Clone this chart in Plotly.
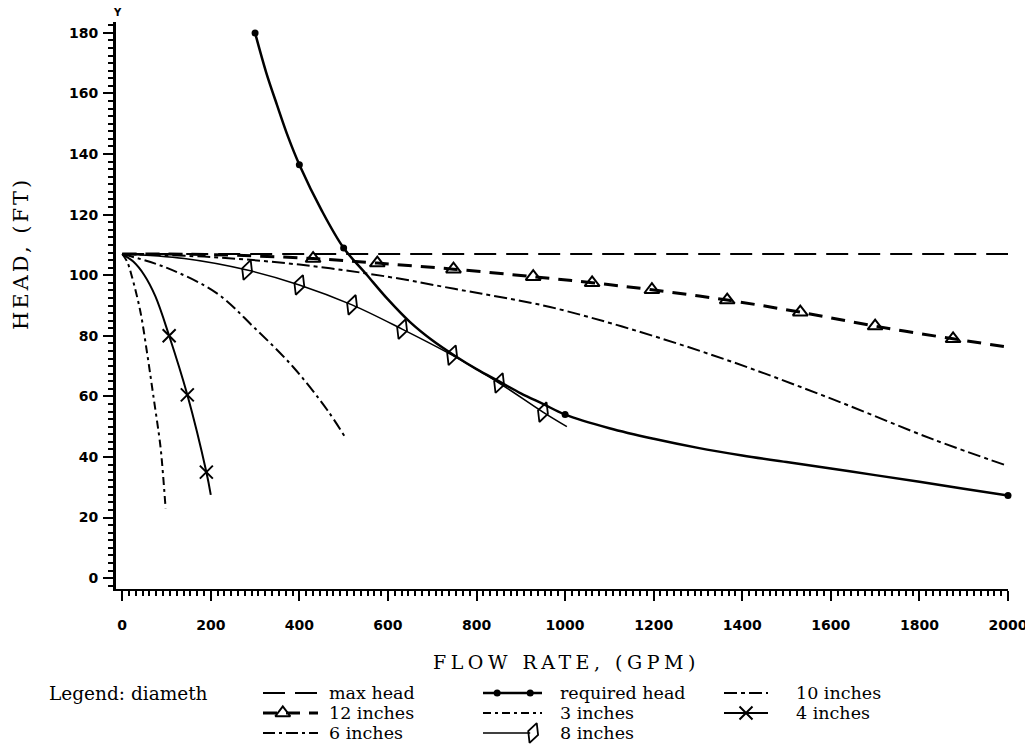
import plotly.graph_objects as go

# ---------------- data ----------------
max_head_x = [0, 2000]
max_head_y = [107, 107]

req_x = [300, 325, 350, 375, 400, 450, 500, 550, 600, 650, 700, 750, 800, 850, 900,
         950, 1000, 1100, 1200, 1300, 1400, 1500, 1600, 1700, 1800, 1900, 2000]
req_y = [180, 167, 156, 145.5, 136.5, 121.5, 109, 100.5, 92, 84.5, 78.5, 73.5, 69, 65, 61,
         57.5, 54, 49.5, 46, 43, 40.5, 38.3, 36.2, 34, 31.8, 29.5, 27.3]
req_mark_x = [300, 400, 500, 1000, 2000]
req_mark_y = [180, 136.5, 109, 54, 27.3]

d12_x = [0, 200, 431, 576, 748, 928, 1061, 1196, 1366, 1531, 1700, 1876, 2000]
d12_y = [107, 106.8, 105.5, 104, 102, 99.5, 97.5, 95.2, 91.8, 87.8, 83.2, 79, 76.3]
d12_mark_x = [431, 576, 748, 928, 1061, 1196, 1366, 1531, 1700, 1876]
d12_mark_y = [105.5, 104, 102, 99.5, 97.5, 95.2, 91.8, 87.8, 83.2, 79]

d10_x = [0, 200, 400, 600, 750, 853, 966, 1153, 1379, 1605, 1831, 2000]
d10_y = [107, 106, 103.5, 99.5, 95.5, 92.8, 89.5, 82, 71.3, 59, 45.8, 37]

d8_x = [0, 140, 282, 400, 519, 632, 745, 851, 950, 1004]
d8_y = [107, 105.5, 101.7, 96.8, 90.2, 82.2, 73.6, 64.4, 54.8, 50]
d8_mark_x = [282, 400, 519, 632, 745, 851, 950]
d8_mark_y = [101.7, 96.8, 90.2, 82.2, 73.6, 64.4, 54.8]

d6_x = [0, 101, 214, 296, 386, 463, 503]
d6_y = [107, 102.4, 94, 83, 69.7, 55.5, 46.6]

d4_x = [0, 25, 50, 75, 106, 147, 190, 200]
d4_y = [107, 104.5, 100, 93, 80, 60.5, 35, 27.5]
d4_mark_x = [106, 147, 190]
d4_mark_y = [80, 60.5, 35]

d3_x = [0, 11, 22, 41, 56, 70, 86, 92, 98]
d3_y = [107, 104.5, 99.5, 88, 74.5, 60.5, 43.9, 34.5, 23]

x_ticks = [0, 200, 400, 600, 800, 1000, 1200, 1400, 1600, 1800, 2000]
y_ticks = [0, 20, 40, 60, 80, 100, 120, 140, 160, 180]

legend_labels = ["max head", "12 inches", "6 inches",
                 "required head", "3 inches", "8 inches",
                 "10 inches", "4 inches"]

# ---------------- styles ----------------
BLACK = "black"
SERIF = "DejaVu Serif"
S_MAX = dict(color=BLACK, width=2, dash="22px,10px")
S_REQ = dict(color=BLACK, width=2.5)
S_12 = dict(color=BLACK, width=3, dash="14px,9px")
S_10 = dict(color=BLACK, width=2, dash="13px,4px,4px,4px")
S_8 = dict(color=BLACK, width=1.6)
S_6 = dict(color=BLACK, width=2, dash="12px,4px,3px,4px")
S_4 = dict(color=BLACK, width=2)
S_3 = dict(color=BLACK, width=2, dash="8px,4px,3px,4px")

M_REQ = dict(symbol="circle", size=7, color=BLACK)
M_12 = dict(symbol="triangle-up-open", size=13, color=BLACK, line=dict(width=2, color=BLACK))
M_8 = dict(symbol="diamond-tall-open", size=15, angle=20, color=BLACK, line=dict(width=1.8, color=BLACK))
M_4 = dict(symbol="x-thin", size=13, color=BLACK, line=dict(width=2, color=BLACK))

# The page body has an 8px margin, so the figure sits at (8, 8) in the window.
OFF = 8
W, H = 1033 - OFF, 751 - OFF
def px(v):  # window pixel -> figure pixel
    return v - OFF
PLOT_L, PLOT_R, PLOT_T, PLOT_B = px(116), px(1008), px(22), px(589)

fig = go.Figure()

def curve(x, y, style, spline=True, axes=("x", "y")):
    fig.add_trace(go.Scatter(x=x, y=y, mode="lines", xaxis=axes[0], yaxis=axes[1],
                             line=dict(style, shape="spline" if spline else "linear"),
                             showlegend=False, hoverinfo="skip", cliponaxis=False))

def marks(x, y, marker, axes=("x", "y")):
    fig.add_trace(go.Scatter(x=x, y=y, mode="markers", marker=marker, xaxis=axes[0], yaxis=axes[1],
                             showlegend=False, hoverinfo="skip", cliponaxis=False))

curve(max_head_x, max_head_y, S_MAX, spline=False)
curve(d12_x, d12_y, S_12)
marks(d12_mark_x, d12_mark_y, M_12)
curve(d10_x, d10_y, S_10)
curve(d6_x, d6_y, S_6)
curve(d3_x, d3_y, S_3)
curve(d4_x, d4_y, S_4)
marks(d4_mark_x, d4_mark_y, M_4)
curve(d8_x, d8_y, S_8)
marks(d8_mark_x, d8_mark_y, M_8)
curve(req_x, req_y, S_REQ)
marks(req_mark_x, req_mark_y, M_REQ)

# ---------------- legend (drawn on a hidden pixel-coordinate axis pair) ----------------
ROWS = [px(693), px(713), px(733)]
COLS = [(px(263), px(318), px(327)), (px(483), px(542), px(558)), (px(724), px(768), px(794))]
legend_spec = [
    # (style, marker, col, row, marker positions as fraction of sample length, sample end fraction)
    (S_MAX, None, 0, 0, [], 1.0),
    (S_12, M_12, 0, 1, [0.36], 1.0),
    (S_6, None, 0, 2, [], 1.0),
    (S_REQ, M_REQ, 1, 0, [0.24, 0.8], 1.0),
    (S_3, None, 1, 1, [], 1.0),
    (S_8, M_8, 1, 2, [0.85], 0.8),
    (S_10, None, 2, 0, [], 1.0),
    (S_4, M_4, 2, 1, [0.5], 1.0),
]
LEG = ("x2", "y2")
annotations = []
for label, (style, marker, c, r, mpos, endf) in zip(legend_labels, legend_spec):
    x0, x1, tx = COLS[c]
    yy = ROWS[r]
    curve([x0, x0 + (x1 - x0) * endf], [yy, yy], style, spline=False, axes=LEG)
    if marker:
        marks([x0 + (x1 - x0) * f for f in mpos], [yy] * len(mpos), marker, axes=LEG)
    annotations.append(dict(text=label, xref="x2", yref="y2", x=tx, y=yy, xanchor="left",
                            yanchor="middle", showarrow=False,
                            font=dict(family=SERIF, size=17.5, color=BLACK)))

annotations += [
    dict(text="Legend: diameth", xref="x2", yref="y2", x=px(47), y=ROWS[0], xanchor="left",
         yanchor="middle", showarrow=False, font=dict(family=SERIF, size=18.5, color=BLACK)),
    dict(text='<span style="letter-spacing:4.5px">FLOW RATE, (GPM)</span>', xref="x2", yref="y2",
         x=px(566), y=px(662), xanchor="center", yanchor="middle", showarrow=False,
         font=dict(family=SERIF, size=19, color=BLACK)),
    dict(text='<span style="letter-spacing:3px">HEAD, (FT)</span>', xref="x2", yref="y2",
         x=px(21), y=px(254), xanchor="center", yanchor="middle", showarrow=False, textangle=-90,
         font=dict(family=SERIF, size=21, color=BLACK)),
    dict(text="<b>Y</b>", xref="x2", yref="y2", x=px(117), y=px(12), xanchor="center", yanchor="middle",
         showarrow=False, font=dict(family="DejaVu Sans", size=10, color=BLACK)),
]

tickfont = dict(family="DejaVu Sans", size=14, color=BLACK, weight="bold")

fig.update_layout(
    width=W, height=H,
    margin=dict(l=0, r=0, t=0, b=0, pad=0, autoexpand=False),
    paper_bgcolor="white", plot_bgcolor="rgba(0,0,0,0)",
    showlegend=False,
    xaxis=dict(domain=[PLOT_L / W, PLOT_R / W], anchor="y", automargin=False,
               range=[-14, 2000], showgrid=False, zeroline=False,
               showline=True, linecolor=BLACK, linewidth=2,
               tickmode="array", tickvals=x_ticks, ticks="outside", ticklen=10, tickwidth=2,
               tickcolor=BLACK, ticklabelstandoff=12, tickfont=tickfont,
               minor=dict(ticks="outside", ticklen=5, tickwidth=1.5, tickcolor=BLACK,
                          dtick=200 / 13, tick0=0, showgrid=False)),
    yaxis=dict(domain=[(H - PLOT_B) / H, (H - PLOT_T) / H], anchor="x", automargin=False,
               range=[-3.6, 183.6], showgrid=False, zeroline=False,
               showline=True, linecolor=BLACK, linewidth=3,
               tickmode="array", tickvals=y_ticks, ticks="outside", ticklen=10, tickwidth=2,
               tickcolor=BLACK, ticklabelstandoff=2, tickfont=tickfont,
               minor=dict(ticks="outside", ticklen=5, tickwidth=1.5, tickcolor=BLACK,
                          dtick=2.5, tick0=0, showgrid=False)),
    xaxis2=dict(domain=[0, 1], range=[0, W], anchor="y2", visible=False, fixedrange=True, automargin=False),
    yaxis2=dict(domain=[0, 1], range=[H, 0], anchor="x2", visible=False, fixedrange=True, automargin=False),
    annotations=annotations,
)

fig.write_html("out.html")
